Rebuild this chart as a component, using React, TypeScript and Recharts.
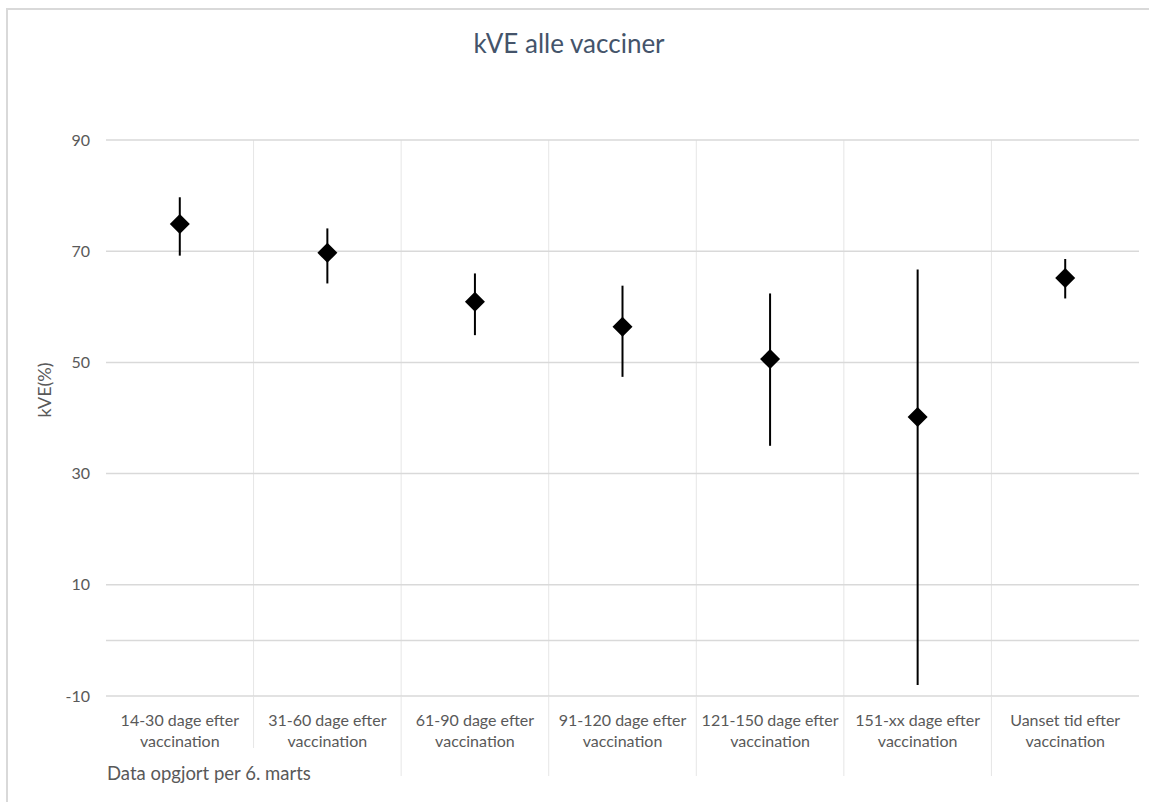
import React from 'react';
import { ComposedChart, Line, ErrorBar, XAxis, YAxis, CartesianGrid, ReferenceLine } from 'recharts';

const categories = [
  '14-30 dage efter vaccination',
  '31-60 dage efter vaccination',
  '61-90 dage efter vaccination',
  '91-120 dage efter vaccination',
  '121-150 dage efter vaccination',
  '151-xx dage efter vaccination',
  'Uanset tid efter vaccination',
];
const kve = [74.9, 69.7, 60.9, 56.4, 50.6, 40.2, 65.2];
const ciLow = [69.2, 64.2, 54.9, 47.4, 35.0, -8.0, 61.5];
const ciHigh = [79.7, 74.1, 66.0, 63.8, 62.4, 66.7, 68.6];
const yTicks = [-10, 10, 30, 50, 70, 90];

// category boundaries (between the bands) for the vertical grid
const boundaryTicks = categories.slice(1).map((_, i) => i + 1);

const data = categories.map((name, i) => ({
  name,
  slot: i,
  kve: kve[i],
  err: [kve[i] - ciLow[i], ciHigh[i] - kve[i]],
}));

const FONT = 'Lato, "Noto Sans", sans-serif';
const GREY_TEXT = '#595959';

const Diamond = (props: any) => {
  const { cx, cy, index } = props;
  if (cx == null || cy == null) return <g key={index} />;
  const r = 10;
  return (
    <path
      key={index}
      d={`M${cx},${cy - r}L${cx + r},${cy}L${cx},${cy + r}L${cx - r},${cy}Z`}
      fill="#000"
    />
  );
};

const CategoryTick = ({ x, y, payload }: any) => {
  const text: string = payload.value;
  const cut = text.lastIndexOf(' ');
  return (
    <g transform={`translate(${x},${y})`}>
      <text textAnchor="middle" fill={GREY_TEXT} fontSize={16} fontFamily={FONT}>
        <tspan x={0} y={30}>{text.slice(0, cut)}</tspan>
        <tspan x={0} y={51}>{text.slice(cut + 1)}</tspan>
      </text>
    </g>
  );
};

export default function App() {
  return (
    <div
      style={{
        position: 'absolute',
        left: 0,
        top: 0,
        width: 1149,
        height: 802,
        overflow: 'hidden',
        background: '#fff',
        fontFamily: FONT,
      }}
    >
      <div
        style={{
          position: 'absolute',
          left: 6,
          top: 8,
          width: 1300,
          height: 1000,
          borderTop: '2px solid #d9d9d9',
          borderLeft: '2px solid #d9d9d9',
        }}
      />
      <div style={{ position: 'absolute', left: 0, top: 0 }}>
        <ComposedChart
          width={1149}
          height={802}
          data={data}
          margin={{ top: 140, right: 10, bottom: 104, left: 0 }}
        >
          <CartesianGrid xAxisId="grid" horizontal={false} syncWithTicks stroke="#e6e6e6" />
          <CartesianGrid
            xAxisId="grid"
            vertical={false}
            syncWithTicks
            stroke="#d9d9d9"
            strokeWidth={1.5}
          />
          <ReferenceLine xAxisId="cat" y={0} stroke="#d9d9d9" strokeWidth={1.5} />
          <XAxis
            xAxisId="cat"
            dataKey="name"
            type="category"
            scale="band"
            height={1}
            axisLine={false}
            tickLine={false}
            tickSize={0}
            tickMargin={0}
            interval={0}
            tick={<CategoryTick />}
          />
          <XAxis
            xAxisId="grid"
            dataKey="slot"
            type="number"
            domain={[0, categories.length]}
            allowDataOverflow
            ticks={boundaryTicks}
            interval={0}
            height={1}
            axisLine={false}
            tickSize={79}
            tickLine={{ stroke: '#e6e6e6' }}
            tick={() => <g />}
          />
          <YAxis
            domain={[-10, 90]}
            ticks={yTicks}
            width={106}
            axisLine={false}
            tickLine={false}
            tickSize={0}
            tickMargin={16}
            tick={{ fill: GREY_TEXT, fontSize: 16, fontFamily: FONT }}
          />
          <Line
            xAxisId="cat"
            dataKey="kve"
            stroke="none"
            dot={(p: any) => <Diamond key={p.index} {...p} />}
            activeDot={false}
            legendType="none"
            isAnimationActive={false}
          >
            <ErrorBar dataKey="err" width={0} stroke="#000" strokeWidth={2} direction="y" />
          </Line>
        </ComposedChart>
      </div>
      <svg
        width={1149}
        height={802}
        style={{ position: 'absolute', left: 0, top: 0, pointerEvents: 'none' }}
      >
        <text x={569} y={53} textAnchor="middle" fontSize={26} fill="#44546a" fontFamily={FONT}>
          kVE alle vacciner
        </text>
        <text
          transform="translate(51,390) rotate(-90)"
          textAnchor="middle"
          fontSize={18}
          fill={GREY_TEXT}
          fontFamily={FONT}
        >
          kVE(%)
        </text>
        <rect x={104} y={748} width={214} height={44} fill="#fff" />
        <text x={107} y={780} fontSize={18.5} fill={GREY_TEXT} fontFamily={FONT}>
          Data opgjort per 6. marts
        </text>
      </svg>
    </div>
  );
}
